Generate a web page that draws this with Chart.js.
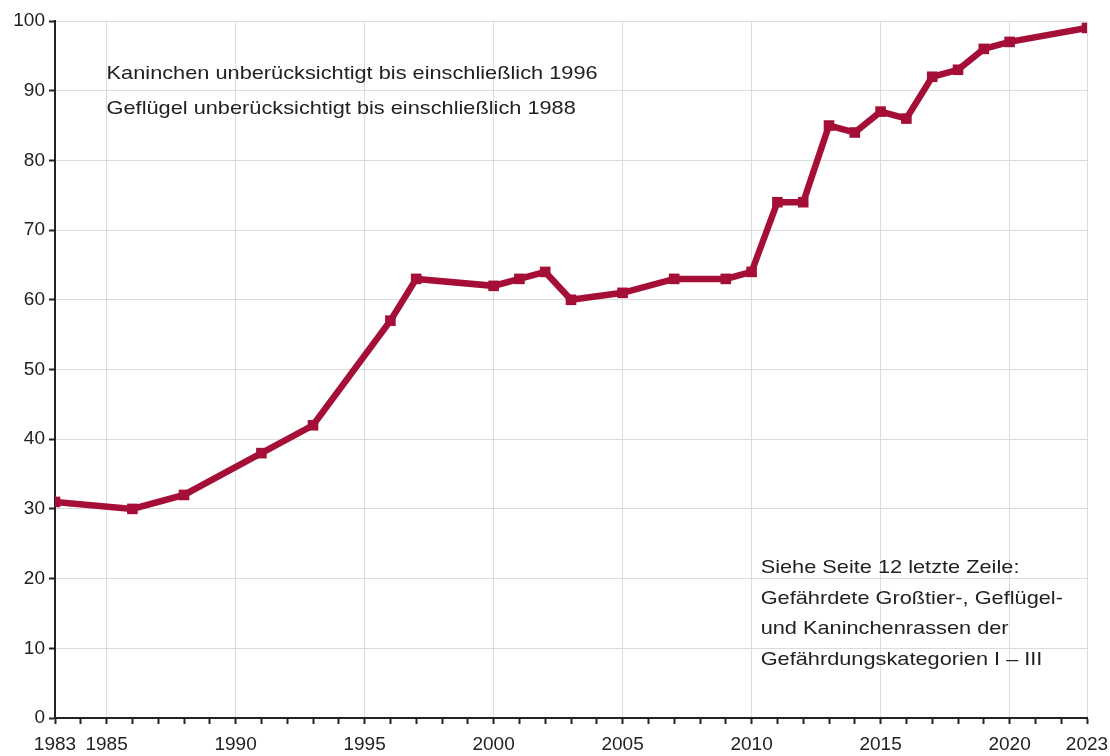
<!DOCTYPE html>
<html>
<head>
<meta charset="utf-8">
<script src="https://cdn.jsdelivr.net/npm/chart.js@4/dist/chart.umd.min.js"></script>
<style>
  body { margin: 0; background: #fff; }
  #wrap { width: 1110px; height: 756px; }
</style>
</head>
<body>
<div id="wrap"><canvas id="myChart"></canvas></div>
<script>
const years = [1983, 1986, 1988, 1991, 1993, 1996, 1997, 2000, 2001, 2002, 2003, 2005, 2007, 2009, 2010, 2011, 2012, 2013, 2014, 2015, 2016, 2017, 2018, 2019, 2020, 2023];
const values = [31, 30, 32, 38, 42, 57, 63, 62, 63, 64, 60, 61, 63, 63, 64, 74, 74, 85, 84, 87, 86, 92, 93, 96, 97, 99];
const xLabels = [1983, 1985, 1990, 1995, 2000, 2005, 2010, 2015, 2020, 2023];
const noteTop = ["Kaninchen unberücksichtigt bis einschließlich 1996", "Geflügel unberücksichtigt bis einschließlich 1988"];
const noteBottom = ["Siehe Seite 12 letzte Zeile:", "Gefährdete Großtier-, Geflügel-", "und Kaninchenrassen der", "Gefährdungskategorien I – III"];

const lineColor = "#a50f37";
const fontFamily = "'Liberation Sans', Arial, sans-serif";

// text in the reference is a bit wider than Liberation Sans
const notes = {
  id: "notes",
  afterDatasetsDraw(chart) {
    const { ctx, scales } = chart;
    const sx = 1.145;
    ctx.save();
    ctx.font = "19px " + fontFamily;
    ctx.fillStyle = "#222";
    ctx.textBaseline = "middle";
    const draw = (lines, x, y, gap) => {
      lines.forEach((t, i) => {
        ctx.save();
        ctx.translate(x, y + i * gap);
        ctx.scale(sx, 1);
        ctx.fillText(t, 0, 0);
        ctx.restore();
      });
    };
    draw(noteTop, scales.x.getPixelForValue(1985), scales.y.getPixelForValue(92.4), 35);
    draw(noteBottom, scales.x.getPixelForValue(2010.35), scales.y.getPixelForValue(21.5), 30.5);
    ctx.restore();
  }
};

const data = {
  datasets: [
    {
      data: years.map((yr, i) => ({ x: yr, y: values[i] })),
      borderColor: lineColor,
      backgroundColor: lineColor,
      borderWidth: 6.5,
      pointStyle: "rect",
      pointRadius: 7.5,
      pointBorderWidth: 0,
      tension: 0
    }
  ]
};

const options = {
  responsive: true,
  maintainAspectRatio: false,
  animation: false,
  layout: { padding: { top: 21, right: 0, bottom: 0, left: 0 } },
  plugins: { legend: { display: false }, tooltip: { enabled: false } },
  scales: {
    x: {
      type: "linear",
      min: 1983,
      max: 2023,
      afterBuildTicks: (scale) => {
        const t = [];
        for (let yr = 1983; yr <= 2023; yr++) t.push({ value: yr });
        scale.ticks = t;
      },
      afterFit: (scale) => {
        scale.height = 38;
        scale.paddingLeft = 0;
        scale.paddingRight = 23;
      },
      ticks: {
        autoSkip: false,
        maxRotation: 0,
        color: "#222",
        font: { size: 19, family: fontFamily },
        padding: 9,
        callback: (v) => (xLabels.includes(v) ? String(v) : "")
      },
      grid: {
        color: (c) => (c.tick && xLabels.includes(c.tick.value) && c.tick.value !== 1983 ? "#dcdcdc" : "rgba(0,0,0,0)"),
        tickColor: "#222",
        tickLength: 6,
        tickWidth: 2,
        lineWidth: 1
      },
      border: { color: "#222", width: 2 }
    },
    y: {
      min: 0,
      max: 100,
      afterFit: (scale) => { scale.width = 55; },
      ticks: {
        stepSize: 10,
        color: "#222",
        font: { size: 19, family: fontFamily },
        padding: 4
      },
      grid: {
        color: (c) => (c.tick && c.tick.value === 0 ? "rgba(0,0,0,0)" : "#dcdcdc"),
        tickColor: "#222",
        tickLength: 6,
        tickWidth: 2,
        lineWidth: 1
      },
      border: { color: "#222", width: 2 }
    }
  }
};

const config = {
  type: "line",
  data,
  options,
  plugins: [notes]
};

const myChart = new Chart(document.getElementById("myChart").getContext("2d"), config);
</script>
</body>
</html>
